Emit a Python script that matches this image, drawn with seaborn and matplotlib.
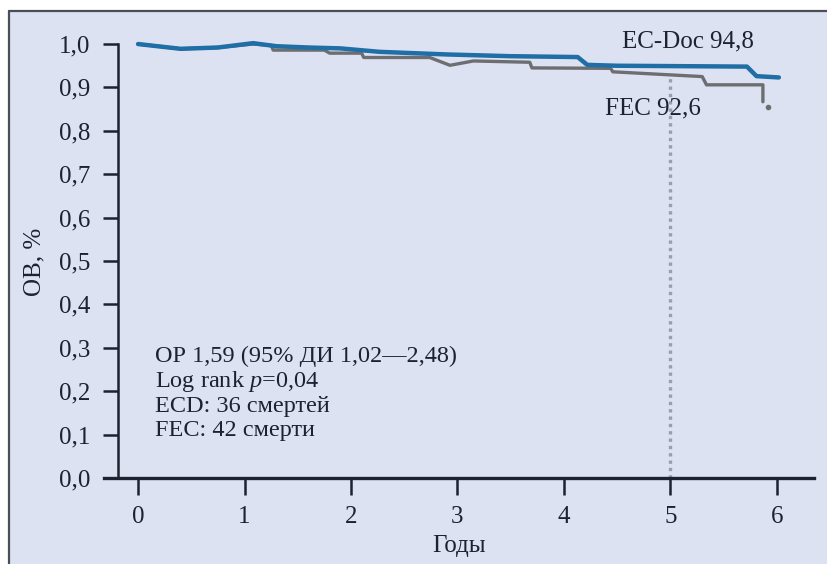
import numpy as np
import pandas as pd
import seaborn as sns
import matplotlib.pyplot as plt
from matplotlib.patches import Rectangle
from matplotlib.lines import Line2D

sns.set_theme(style='white')
plt.rcParams['font.family'] = ['Liberation Serif', 'DejaVu Serif']
plt.rcParams['mathtext.fontset'] = 'custom'
plt.rcParams['mathtext.rm'] = 'Liberation Serif'
plt.rcParams['mathtext.it'] = 'Liberation Serif:italic'

# --- данные ---
ecdoc_years = [0, 0.4, 0.75, 1.08, 1.3, 1.6, 1.9, 2.27, 2.9, 3.5, 4.13, 4.22, 4.5, 5.72, 5.81, 6.02]
ecdoc_os = [1.0, 0.989, 0.992, 1.002, 0.995, 0.992, 0.99, 0.982, 0.976, 0.972, 0.970, 0.952, 0.950, 0.948, 0.926, 0.923]

fec_years = [0, 0.4, 0.75, 1.08, 1.25, 1.27, 1.75, 1.8, 2.1, 2.12, 2.74, 2.93, 3.15, 3.68, 3.70,
             4.44, 4.46, 5.3, 5.34, 5.87, 5.87]
fec_os = [1.0, 0.989, 0.992, 1.0, 0.997, 0.986, 0.986, 0.979, 0.979, 0.969, 0.969, 0.951, 0.961, 0.958, 0.945,
          0.944, 0.936, 0.925, 0.906, 0.906, 0.867]
fec_last = (5.92, 0.855)

landmark_year = 5
landmark_os = 0.93

x_ticks = [0, 1, 2, 3, 4, 5, 6]
y_ticks = [0.0, 0.1, 0.2, 0.3, 0.4, 0.5, 0.6, 0.7, 0.8, 0.9, 1.0]

stats_lines = ['ОР 1,59 (95% ДИ 1,02—2,48)', 'Log rank $p$=0,04',
               'ECD: 36 смертей', 'FEC: 42 смерти']

blue = '#1f6ea6'
grey = '#6d6e70'
ink = '#1c2230'

fig = plt.figure(figsize=(8.28, 5.64), dpi=100)
fig.patch.set_facecolor('white')
# фон-подложка рисунка
fig.patches.append(Rectangle((9 / 828, 0), 1, 553 / 564, transform=fig.transFigure,
                             facecolor='#dde2f2', edgecolor='none', zorder=-10))
fig.lines.append(Line2D([9 / 828, 1], [553 / 564, 553 / 564], transform=fig.transFigure,
                        color='#4a4e57', lw=1.6))
fig.lines.append(Line2D([9 / 828, 9 / 828], [0, 553 / 564], transform=fig.transFigure,
                        color='#4a4e57', lw=1.6))

ax = fig.add_axes([104 / 828, 86 / 564, 710 / 828, 460 / 564])
ax.set_facecolor('none')

df_ec = pd.DataFrame({'Годы': ecdoc_years, 'ОВ': ecdoc_os})
df_fec = pd.DataFrame({'Годы': fec_years, 'ОВ': fec_os})

ax.plot([landmark_year, landmark_year], [0, landmark_os], color='#98a0b0',
        lw=2.4, ls=(0, (1, 1.2)), zorder=1)
sns.lineplot(data=df_fec, x='Годы', y='ОВ', sort=False, color=grey, lw=2.4,
             estimator=None, ax=ax, zorder=2)
ax.plot(*fec_last, marker='o', ms=3, color=grey, zorder=2)
sns.lineplot(data=df_ec, x='Годы', y='ОВ', sort=False, color=blue, lw=3.2,
             estimator=None, ax=ax, zorder=3)

ax.set_xlim(-0.32, 6.35)
ax.set_ylim(0, 1.06)
ax.set_xticks(x_ticks)
ax.set_yticks(y_ticks)
ax.set_yticklabels([f'{v:.1f}'.replace('.', ',') for v in y_ticks])

for s in ['top', 'right']:
    ax.spines[s].set_visible(False)
ax.spines['left'].set_position(('data', -0.19))
ax.spines['left'].set_bounds(0, 1.0)
ax.spines['left'].set_linewidth(1.8)
ax.spines['bottom'].set_linewidth(2.4)
ax.spines['left'].set_color(ink)
ax.spines['bottom'].set_color(ink)

ax.tick_params(axis='y', direction='out', length=11, width=1.8, pad=9,
               labelsize=18, colors=ink, left=True)
ax.tick_params(axis='x', direction='out', length=12, width=1.8, pad=8,
               labelsize=18, colors=ink, bottom=True)

ax.set_xlabel('Годы', fontsize=18, color=ink, labelpad=5)
ax.set_ylabel('ОВ, %', fontsize=18, color=ink)
ax.yaxis.set_label_coords(-0.082, 0.47)

ax.text(4.55, 1.005, 'EC-Doc 94,8', fontsize=18, color=ink, va='center', ha='left')
ax.text(4.39, 0.852, 'FEC 92,6', fontsize=18, color=ink, va='center', ha='left')

ax.text(0.16, 0.196, '\n'.join(stats_lines), fontsize=17.5, color=ink,
        va='center', ha='left', linespacing=1.14)

plt.savefig('out.png', dpi=100)
